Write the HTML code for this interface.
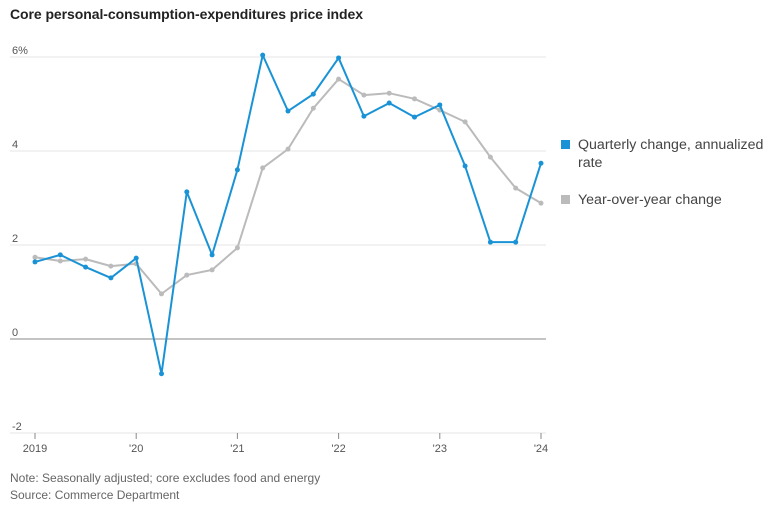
<!DOCTYPE html>
<html><head><meta charset="utf-8"><style>
body{margin:0;background:#fff;font-family:"Liberation Sans",sans-serif;}
svg text{font-family:"Liberation Sans",sans-serif;}
</style></head><body>
<svg width="770" height="510">
<text x="10" y="19" font-size="14" font-weight="bold" fill="#222" textLength="353">Core personal-consumption-expenditures price index</text>
<g id="grid"></g><g id="series"></g>
<g>
<rect x="561" y="140" width="9" height="9" fill="#1a93d6"/>
<text x="578" y="149" font-size="14.2" fill="#444">Quarterly change, annualized</text>
<text x="578" y="167" font-size="14.2" fill="#444">rate</text>
<rect x="561" y="195" width="9" height="9" fill="#bbbbbb"/>
<text x="578" y="204" font-size="14.2" fill="#444">Year-over-year change</text>
</g>
<text x="10" y="482" font-size="12" fill="#666">Note: Seasonally adjusted; core excludes food and energy</text>
<text x="10" y="499" font-size="12" fill="#666">Source: Commerce Department</text>
</svg>
<script>
const yTicks=[6,4,2,0,-2];
const yTickLabels=["6%","4","2","0","-2"];
const xTickLabels=["2019","'20","'21","'22","'23","'24"];
const quarterly=[1.64,1.79,1.53,1.30,1.72,-0.74,3.13,1.79,3.6,6.04,4.85,5.21,5.98,4.74,5.02,4.72,4.98,3.68,2.06,2.06,3.74];
const yoy=[1.74,1.66,1.70,1.55,1.6,0.96,1.36,1.47,1.94,3.64,4.04,4.91,5.53,5.19,5.23,5.11,4.87,4.62,3.87,3.21,2.89];
const NS="http://www.w3.org/2000/svg";
const x0=35,x1=541,nQ=20;
const xS=i=>x0+(x1-x0)*i/nQ;
const yS=v=>339-47*v;
const grid=document.getElementById('grid'),ser=document.getElementById('series');
function mk(tag,attrs,parent){const e=document.createElementNS(NS,tag);for(const k in attrs)e.setAttribute(k,attrs[k]);parent.appendChild(e);return e;}
yTicks.forEach((v,i)=>{
  const l=mk('line',{x1:10,x2:546,y1:yS(v),y2:yS(v),stroke:v===0?'#888':'#e4e4e4','stroke-width':1},grid);
  
  
  const t=mk('text',{x:12,y:yS(v)-3,'font-size':11,fill:'#555'},grid);
  t.textContent=yTickLabels[i];
  
  
});
xTickLabels.forEach((s,i)=>{
  const x=xS(i*4);
  const l=mk('line',{x1:x,x2:x,y1:433,y2:439,stroke:'#888'},grid);
  
  
  const t=mk('text',{x:x,y:452,'font-size':11,fill:'#555','text-anchor':'middle'},grid);
  t.textContent=s;
  
  
});
function drawSeries(arr,color,name){
  const p=mk('polyline',{points:arr.map((v,i)=>xS(i)+','+yS(v)).join(' '),fill:'none',stroke:color,'stroke-width':2,'stroke-linejoin':'round'},ser);
  
  
  arr.forEach((v,i)=>{
    const c=mk('circle',{cx:xS(i),cy:yS(v),r:2.5,fill:color},ser);
    
    
  });
}
drawSeries(yoy,'#bbbbbb','yoy');
drawSeries(quarterly,'#1a93d6','quarterly');
</script>
</body></html>
